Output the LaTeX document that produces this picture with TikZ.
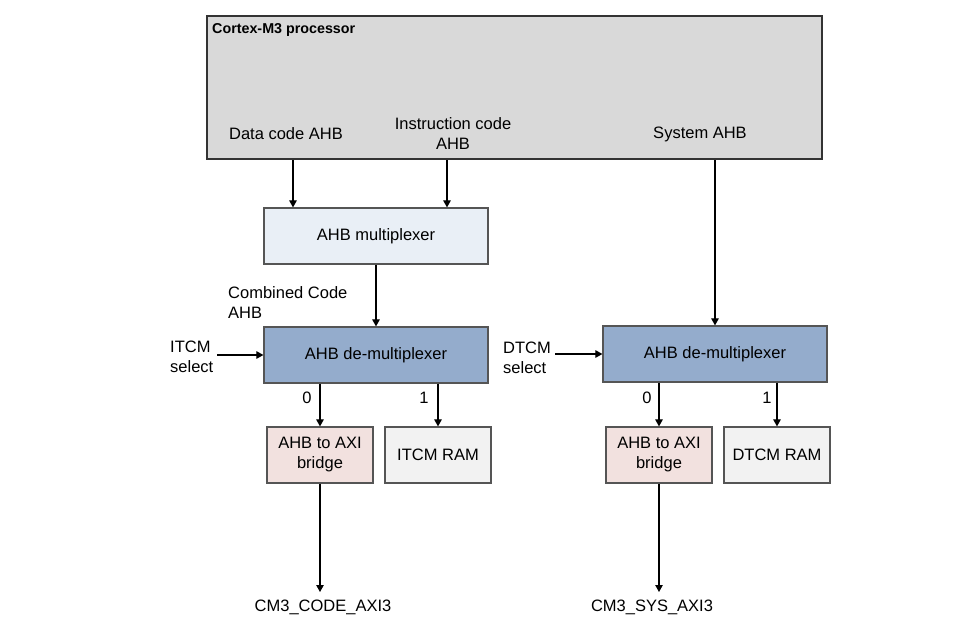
\documentclass[tikz,border=0pt]{standalone}
\usepackage{fontspec}
\setmainfont{Liberation Sans}
\usetikzlibrary{arrows.meta}
\definecolor{procfill}{HTML}{D9D9D9}
\definecolor{muxfill}{HTML}{E9EFF6}
\definecolor{demuxfill}{HTML}{94ACCC}
\definecolor{bridgefill}{HTML}{F2E1DF}
\definecolor{ramfill}{HTML}{F2F2F2}
\definecolor{edge}{HTML}{555555}
\tikzset{
  txt/.style={font=\fontsize{16.5}{20}\selectfont, inner sep=0pt, align=center},
  blk/.style={draw=edge, line width=1.2pt, inner sep=0pt, font=\fontsize{16.5}{20}\selectfont, align=center},
  arr/.style={draw=black, line width=1.1pt, -{Triangle[length=7pt,width=7.5pt]}},
}
\begin{document}
\begin{tikzpicture}[x=1pt,y=-1pt]
\useasboundingbox (0,0) rectangle (963,643);
% processor
\node[draw=black!80, line width=2pt, fill=procfill, minimum width=615pt, minimum height=143pt, inner sep=0pt] (proc) at (514.5,87.5) {};
\node[anchor=west, inner sep=0pt, font=\fontsize{14.3}{17}\selectfont\bfseries] (title) at (212,30) {Cortex-M3 processor};
\node[txt] (dca) at (286,134) {Data code AHB};
\node[txt] (ica) at (453,134) {Instruction code\\AHB};
\node[txt] (sys) at (700,134) {System AHB};
% blocks
\node[blk, fill=muxfill, minimum width=224pt, minimum height=56pt] (mux) at (376,236) {AHB multiplexer};
\node[blk, fill=demuxfill, minimum width=224pt, minimum height=56pt] (dmA) at (376,355) {AHB de-multiplexer};
\node[blk, fill=demuxfill, minimum width=224pt, minimum height=56pt] (dmB) at (715,354) {AHB de-multiplexer};
\node[blk, fill=bridgefill, minimum width=106pt, minimum height=56pt] (brA) at (320,455) {AHB to AXI\\bridge};
\node[blk, fill=ramfill, minimum width=106pt, minimum height=56pt] (itcm) at (438,455) {ITCM RAM};
\node[blk, fill=bridgefill, minimum width=106pt, minimum height=56pt] (brB) at (659,455) {AHB to AXI\\bridge};
\node[blk, fill=ramfill, minimum width=106pt, minimum height=56pt] (dtcm) at (777,455) {DTCM RAM};
% labels
\node[txt, anchor=west, align=left] (cca) at (228,303) {Combined Code\\AHB};
\node[txt, anchor=west, align=left] (isel) at (170,357) {ITCM\\select};
\node[txt, anchor=west, align=left] (dsel) at (503,358) {DTCM\\select};
\node[txt] (l0A) at (307,398) {0};
\node[txt] (l1A) at (424,398) {1};
\node[txt] (l0B) at (647,398) {0};
\node[txt] (l1B) at (767,398) {1};
\node[txt] (outA) at (323,607) {CM3\_CODE\_AXI3};
\node[txt] (outB) at (652,607) {CM3\_SYS\_AXI3};
\coordinate (iselE) at (217,355);
\coordinate (dselE) at (555,354);
\coordinate (outAn) at (320,592);
\coordinate (outBn) at (659,592);
% connectors
\draw[arr] (293,0 |- proc.south) -- (293,0 |- mux.north);
\draw[arr] (447,0 |- proc.south) -- (447,0 |- mux.north);
\draw[arr] (715,0 |- proc.south) -- (715,0 |- dmB.north);
\draw[arr] (mux.south) -- (dmA.north);
\draw[arr] (iselE) -- (iselE -| dmA.west);
\draw[arr] (dselE) -- (dselE -| dmB.west);
\draw[arr] (brA.north |- dmA.south) -- (brA.north);
\draw[arr] (itcm.north |- dmA.south) -- (itcm.north);
\draw[arr] (brB.north |- dmB.south) -- (brB.north);
\draw[arr] (dtcm.north |- dmB.south) -- (dtcm.north);
\draw[arr] (brA.south) -- (outAn);
\draw[arr] (brB.south) -- (outBn);
\end{tikzpicture}
\end{document}
